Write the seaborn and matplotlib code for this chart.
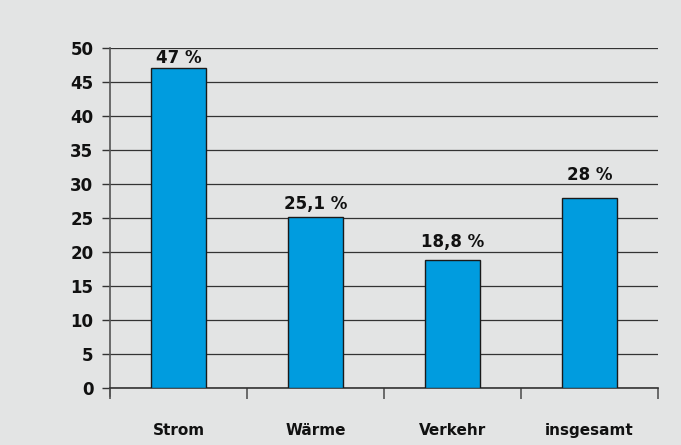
import matplotlib
matplotlib.use("Agg")
import matplotlib.pyplot as plt
import seaborn as sns
import pandas as pd
import numpy as np

categories = ["Strom", "Wärme", "Verkehr", "insgesamt"]
values = [47, 25.1, 18.8, 28]
value_labels = ["47 %", "25,1 %", "18,8 %", "28 %"]
y_ticks = [0, 5, 10, 15, 20, 25, 30, 35, 40, 45, 50]

bg = "#e3e4e4"
sns.set_theme(style="white")
plt.rcParams["font.family"] = ["DejaVu Sans"]

fig = plt.figure(figsize=(6.81, 4.45), dpi=100, facecolor=bg)
ax = fig.add_axes([110/681, 57/445, 548/681, 340/445])
ax.set_facecolor(bg)

df = pd.DataFrame({"cat": categories, "val": values})
sns.barplot(data=df, x="cat", y="val", ax=ax, color="#009cdf", saturation=1,
            width=0.4, edgecolor="#1a1a1a", linewidth=1.0, zorder=3)

ax.set_xlim(-0.5, len(categories) - 0.5)
ax.set_ylim(0, 50)
ax.set_yticks(y_ticks)
ax.yaxis.grid(True, color="#333333", linewidth=0.9, zorder=0)
ax.set_axisbelow(True)

for s in ["top", "right"]:
    ax.spines[s].set_visible(False)
ax.spines["left"].set_color("#555555")
ax.spines["left"].set_linewidth(1.2)
ax.spines["left"].set_bounds(-1.2, 50)
ax.spines["bottom"].set_color("#333333")
ax.spines["bottom"].set_linewidth(1.2)

ax.tick_params(axis="y", which="major", length=6, width=1.0, color="#333333",
               labelsize=12, pad=6, left=True)
ax.tick_params(axis="x", which="major", length=0, labelsize=11, pad=25)
ax.set_xticks(np.arange(len(categories) + 1) - 0.5, minor=True)
ax.tick_params(axis="x", which="minor", length=8, width=1.2, color="#555555", bottom=True)
for lab in ax.get_yticklabels() + ax.get_xticklabels():
    lab.set_fontweight("bold")
    lab.set_color("#111111")

ax.set_xlabel("")
ax.set_ylabel("")

# label offsets above each bar (points), as placed in the original graphic
label_pads = [1.0, 3.0, 6.8, 10.0]
for patch, text, pad in zip(ax.patches, value_labels, label_pads):
    ax.annotate(text, (patch.get_x() + patch.get_width() / 2, patch.get_height()),
                xytext=(0, pad), textcoords="offset points",
                ha="center", va="bottom", fontsize=12, fontweight="bold",
                color="#111111")

fig.savefig("out.png", dpi=100, facecolor=bg)
